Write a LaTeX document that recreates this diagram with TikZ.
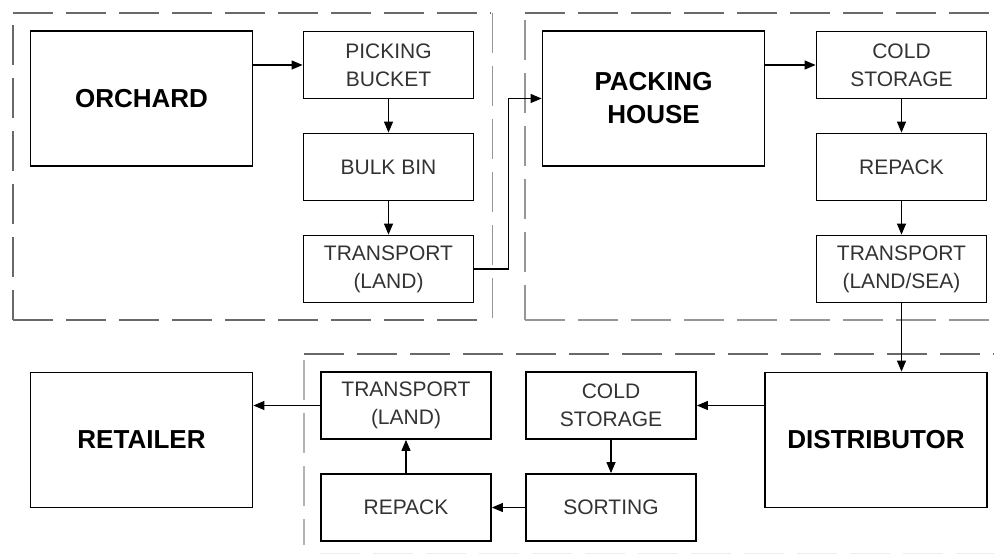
\documentclass[tikz,border=0pt]{standalone}
\usepackage{fontspec}
\setmainfont{Liberation Sans}
\usepackage{tikz}
\usetikzlibrary{arrows.meta}
\definecolor{zonegray}{RGB}{105, 105, 105}

\begin{document}
\begin{tikzpicture}[x=1pt, y=-1pt,
    bigbox/.style={draw, line width=1.8pt, minimum width=222pt, minimum height=135pt, align=center, font=\fontsize{26}{33}\selectfont\bfseries},
    smallbox/.style={draw, line width=1.8pt, minimum width=170pt, minimum height=67pt, align=center, text=black!80, font=\fontsize{21}{28}\selectfont},
    flow/.style={-{Triangle[length=11pt, width=9pt]}, line width=1.2pt},
    zone/.style={zonegray, line width=2pt, dash pattern=on 40pt off 13pt}]
    \useasboundingbox (0, 0) rectangle (994, 556);

    % 虚线区域
    \draw[zone] (13, 13) -- (491, 13);
    \draw[zone] (13, 25) -- (13, 320);
    \draw[zone] (13, 320) -- (479, 320);
    \draw[zonegray!70, line width=1pt, dash pattern=on 40pt off 13pt] (492, 13) -- (492, 320);
    \draw[zone] (525, 13) -- (994, 13);
    \draw[zone, zonegray!70] (525, 20) -- (525, 320);
    \draw[zone, zonegray!70] (525, 320) -- (994, 320);
    \draw[zone] (304, 354) -- (994, 354);
    \draw[zone, zonegray!50, line width=1.2pt] (304, 360) -- (304, 545);
    \draw[zone, zonegray!12, line width=1pt] (320, 553) -- (994, 553);

    % 方框
    \node[bigbox] (orchard) at (141.5, 98.5) {ORCHARD};
    \node[smallbox] (bucket) at (388.5, 65) {PICKING\\BUCKET};
    \node[smallbox] (bulkbin) at (388.5, 167) {BULK BIN};
    \node[smallbox] (landA) at (388.5, 269) {TRANSPORT\\(LAND)};
    \node[bigbox] (packing) at (653.5, 98.5) {PACKING\\HOUSE};
    \node[smallbox] (coldA) at (901.5, 65) {COLD\\STORAGE};
    \node[smallbox] (repackA) at (901.5, 167) {REPACK};
    \node[smallbox] (landsea) at (901.5, 269) {TRANSPORT\\(LAND/SEA)};
    \node[bigbox] (distributor) at (876, 440) {DISTRIBUTOR};
    \node[bigbox] (retailer) at (141.5, 440) {RETAILER};
    \node[smallbox] (landB) at (406, 405.5) {TRANSPORT\\(LAND)};
    \node[smallbox] (repackB) at (406, 507.5) {REPACK};
    \node[smallbox] (coldB) at (611, 405.5) {COLD\\STORAGE};
    \node[smallbox] (sorting) at (611, 507.5) {SORTING};

    % 箭头
    \draw[flow] (orchard.east |- bucket.west) -- (bucket.west);
    \draw[flow] (bucket) -- (bulkbin);
    \draw[flow] (bulkbin) -- (landA);
    \draw[flow] (landA.east) -- ++(34, 0) |- (packing.west);
    \draw[flow] (packing.east |- coldA.west) -- (coldA.west);
    \draw[flow] (coldA) -- (repackA);
    \draw[flow] (repackA) -- (landsea);
    \draw[flow] (landsea.south) -- (landsea.south |- distributor.north);
    \draw[flow] (distributor.west |- coldB.east) -- (coldB.east);
    \draw[flow] (coldB) -- (sorting);
    \draw[flow] (sorting) -- (repackB);
    \draw[flow] (repackB) -- (landB);
    \draw[flow] (landB.west) -- (landB.west -| retailer.east);
\end{tikzpicture}
\end{document}
